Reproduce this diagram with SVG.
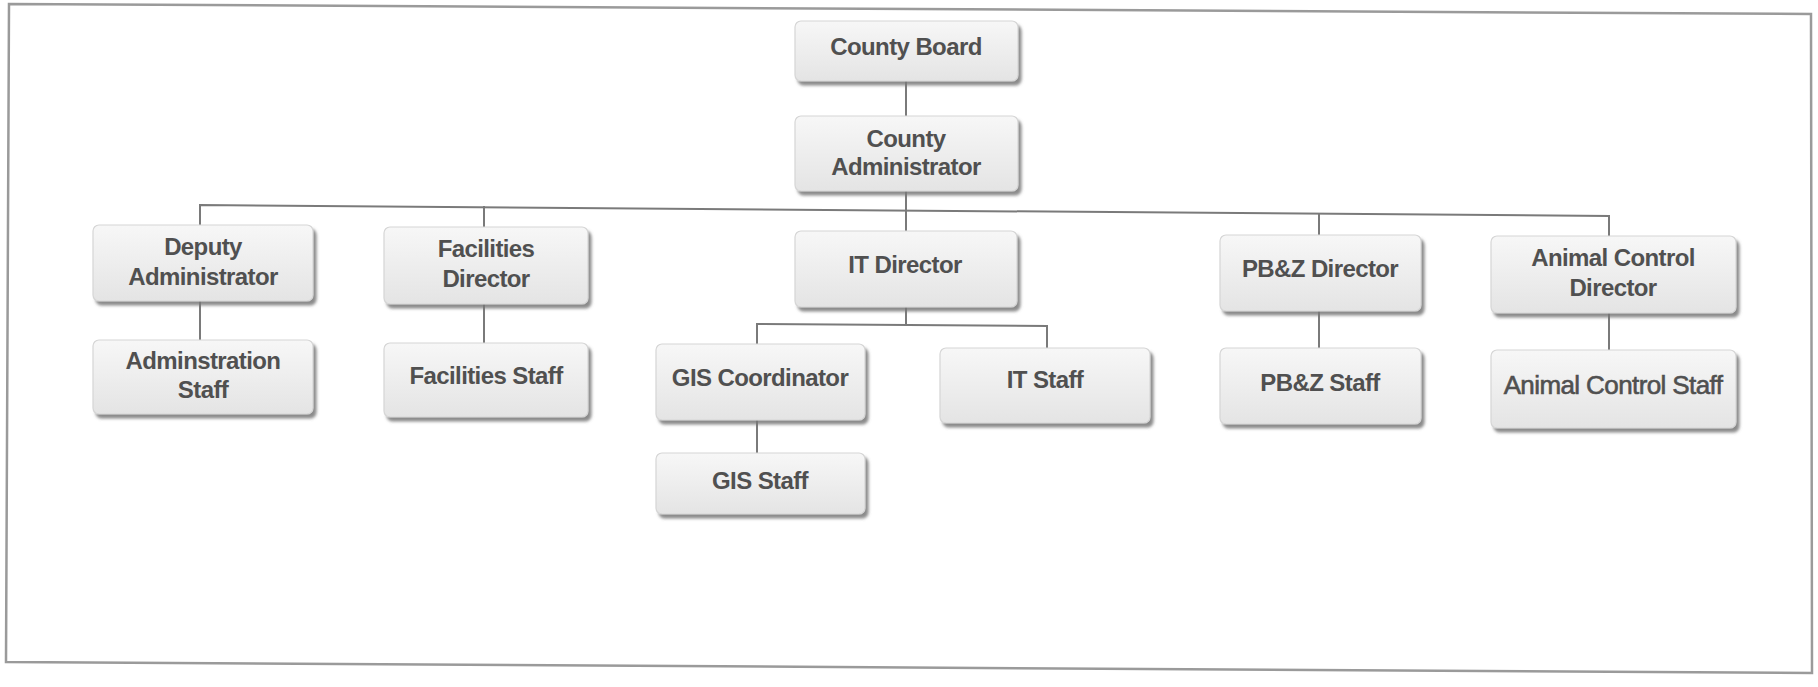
<svg xmlns="http://www.w3.org/2000/svg" width="1818" height="687" viewBox="0 0 1818 687">
<defs>
<linearGradient id="g" x1="0" y1="0" x2="0" y2="1">
<stop offset="0" stop-color="#f7f7f7"/>
<stop offset="1" stop-color="#e4e4e4"/>
</linearGradient>
<filter id="sh" x="-10%" y="-10%" width="125%" height="135%">
<feDropShadow dx="3" dy="4" stdDeviation="1.6" flood-color="#777" flood-opacity="0.85"/>
</filter>
</defs>
<style>
.box{fill:url(#g);stroke:#d6d6d6;stroke-width:1.2;filter:url(#sh)}
.t{font-family:"Liberation Sans",Arial,sans-serif;font-weight:bold;font-size:24px;fill:#505050;text-anchor:middle;letter-spacing:-0.6px}
.tn{font-weight:normal;font-size:26px;stroke:#505050;stroke-width:0.6px;letter-spacing:-0.6px}
.c{fill:none;stroke:#7a7a7a;stroke-width:2}
.frame{fill:none;stroke:#9a9a9a;stroke-width:2.5}
</style>
<rect width="1818" height="687" fill="#fff"/>
<polygon class="frame" points="9,4 1811,14 1812,673 6,662"/>
<g id="connectors">
<line class="c" x1="906" y1="81" x2="906" y2="116"/>
<line class="c" x1="906" y1="191" x2="906" y2="210"/>
<polyline class="c" points="200,226 200,205 1609,216 1609,236"/>
<line class="c" x1="484" y1="206" x2="484" y2="228"/>
<line class="c" x1="906" y1="210" x2="906" y2="231"/>
<line class="c" x1="1319" y1="214" x2="1319" y2="235"/>
<line class="c" x1="200" y1="301" x2="200" y2="340"/>
<line class="c" x1="484" y1="304" x2="484" y2="343"/>
<line class="c" x1="906" y1="307" x2="906" y2="324"/>
<polyline class="c" points="757,344 757,324 1047,326 1047,348"/>
<line class="c" x1="757" y1="420" x2="757" y2="453"/>
<line class="c" x1="1319" y1="311" x2="1319" y2="348"/>
<line class="c" x1="1609" y1="313" x2="1609" y2="350"/>
</g>
<g id="county-board"><rect class="box" x="795" y="21" width="223" height="60" rx="6"/><text class="t" x="906" y="55">County Board</text></g>
<g id="county-administrator"><rect class="box" x="795" y="116" width="223" height="75" rx="6"/><text class="t" x="906" y="147">County</text><text class="t" x="906" y="175">Administrator</text></g>
<g id="deputy-administrator"><rect class="box" x="93" y="225" width="220" height="76" rx="6"/><text class="t" x="203" y="255">Deputy</text><text class="t" x="203" y="285">Administrator</text></g>
<g id="administration-staff"><rect class="box" x="93" y="340" width="220" height="74" rx="6"/><text class="t" x="203" y="369">Adminstration</text><text class="t" x="203" y="398">Staff</text></g>
<g id="facilities-director"><rect class="box" x="384" y="227" width="204" height="77" rx="6"/><text class="t" x="486" y="257">Facilities</text><text class="t" x="486" y="287">Director</text></g>
<g id="facilities-staff"><rect class="box" x="384" y="343" width="204" height="74" rx="6"/><text class="t" x="486" y="384">Facilities Staff</text></g>
<g id="it-director"><rect class="box" x="795" y="231" width="222" height="76" rx="6"/><text class="t" x="905" y="273">IT Director</text></g>
<g id="gis-coordinator"><rect class="box" x="656" y="344" width="209" height="76" rx="6"/><text class="t" x="760" y="386">GIS Coordinator</text></g>
<g id="it-staff"><rect class="box" x="940" y="348" width="210" height="75" rx="6"/><text class="t" x="1045" y="388">IT Staff</text></g>
<g id="gis-staff"><rect class="box" x="656" y="453" width="209" height="61" rx="6"/><text class="t" x="760" y="489">GIS Staff</text></g>
<g id="pbz-director"><rect class="box" x="1220" y="235" width="201" height="76" rx="6"/><text class="t" x="1320" y="277">PB&amp;Z Director</text></g>
<g id="pbz-staff"><rect class="box" x="1220" y="348" width="201" height="76" rx="6"/><text class="t" x="1320" y="391">PB&amp;Z Staff</text></g>
<g id="animal-control-director"><rect class="box" x="1491" y="236" width="245" height="77" rx="6"/><text class="t" x="1613" y="266">Animal Control</text><text class="t" x="1613" y="296">Director</text></g>
<g id="animal-control-staff"><rect class="box" x="1491" y="350" width="245" height="78" rx="6"/><text class="t tn" x="1613" y="394">Animal Control Staff</text></g>
</svg>
